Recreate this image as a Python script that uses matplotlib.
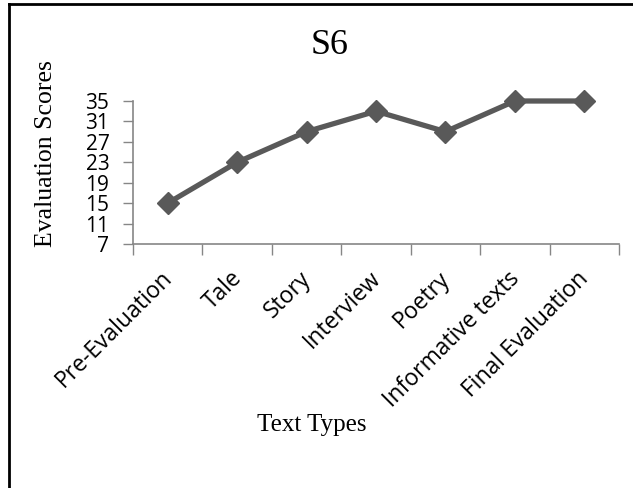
import matplotlib
matplotlib.use("Agg")
import matplotlib.pyplot as plt
import matplotlib.transforms as mtransforms
from matplotlib.lines import Line2D
import numpy as np

categories = ["Pre-Evaluation", "Tale", "Story", "Interview", "Poetry",
              "Informative texts", "Final Evaluation"]
scores = [15, 23, 29, 33, 29, 35, 35]
yticks = [7, 11, 15, 19, 23, 27, 31, 35]

fig = plt.figure(figsize=(6.33, 4.88), dpi=100)
ax = fig.add_axes([133/633, 1-244/488, (619-133)/633, (244-101)/488])

x = np.arange(len(categories))
ax.plot(x, scores, color="#595959", lw=3.8, marker="D", markersize=11,
        markerfacecolor="#595959", markeredgecolor="#595959", clip_on=False,
        zorder=5)

ax.set_xlim(-0.5, len(categories)-0.5)
ax.set_ylim(7, 35)
ax.set_yticks(yticks)
ax.set_yticklabels([str(v) for v in yticks], fontsize=15, family="Open Sans")
ax.set_xticks(x)
ax.set_xticklabels([])
ax.set_xticks(np.arange(-0.5, len(categories)), minor=True)
ax.tick_params(axis="x", which="major", length=0)
ax.tick_params(axis="x", which="minor", length=8, color="#868686", width=1)
ax.tick_params(axis="y", length=7, color="#868686", width=1, pad=10)
for s in ["top", "right"]:
    ax.spines[s].set_visible(False)
for s in ["left", "bottom"]:
    ax.spines[s].set_color("#868686")
    ax.spines[s].set_linewidth(1.2)

# category labels, rotated, anchored below each category centre
offset = mtransforms.ScaledTranslation(1/100, -31/100, fig.dpi_scale_trans)
trans = ax.get_xaxis_transform() + offset
for xi, lab in zip(x, categories):
    ax.text(xi, 0, lab, transform=trans, rotation=45, rotation_mode="anchor",
            ha="right", va="center", fontsize=16.5, family="Open Sans",
            clip_on=False)

fig.text(330/633, 1-46/488, "S6", ha="center", va="center", fontsize=26,
         family="Liberation Serif")
fig.text(46/633, 1-154/488, "Evaluation Scores", ha="center", va="center",
         rotation=90, fontsize=18.5, family="Liberation Serif")
fig.text(312/633, 1-425/488, "Text Types", ha="center", va="center",
         fontsize=18, family="Liberation Serif")

fig.add_artist(Line2D([8.5/633, 8.5/633], [0, 1-3.5/488], transform=fig.transFigure,
                      color="black", lw=2))
fig.add_artist(Line2D([8.5/633, 1], [1-3.5/488, 1-3.5/488], transform=fig.transFigure,
                      color="black", lw=2))

fig.savefig("out.png", dpi=100)
